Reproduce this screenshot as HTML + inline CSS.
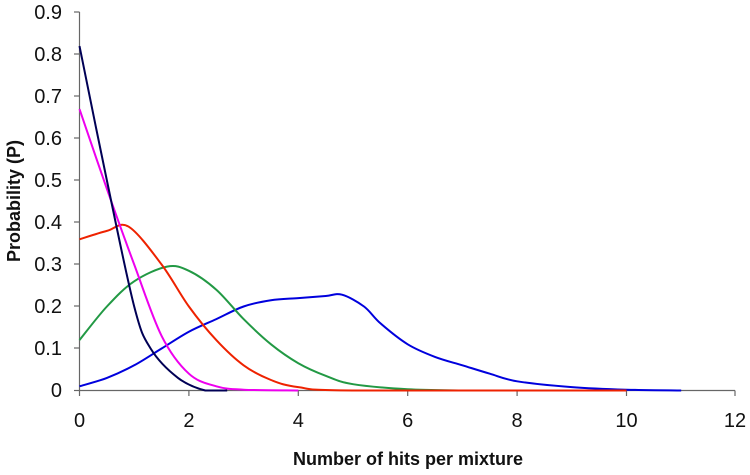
<!DOCTYPE html>
<html><head><style>body{margin:0;background:#fff}</style></head><body>
<svg id="s" width="750" height="470" xmlns="http://www.w3.org/2000/svg" font-family="Liberation Sans, sans-serif">
<rect width="750" height="470" fill="#fff"/>
<g stroke="#666" stroke-width="1.2" fill="none">
<line x1="79.5" y1="12" x2="79.5" y2="390.5"/>
<line x1="79.5" y1="390.5" x2="735" y2="390.5"/>
<g>
<line x1="74" y1="12" x2="79.5" y2="12"/><line x1="74" y1="54" x2="79.5" y2="54"/><line x1="74" y1="96" x2="79.5" y2="96"/><line x1="74" y1="138" x2="79.5" y2="138"/><line x1="74" y1="180" x2="79.5" y2="180"/><line x1="74" y1="222" x2="79.5" y2="222"/><line x1="74" y1="264" x2="79.5" y2="264"/><line x1="74" y1="306" x2="79.5" y2="306"/><line x1="74" y1="348" x2="79.5" y2="348"/><line x1="74" y1="390.5" x2="79.5" y2="390.5"/>
<line x1="79.5" y1="390.5" x2="79.5" y2="396"/><line x1="188.9" y1="390.5" x2="188.9" y2="396"/><line x1="298.3" y1="390.5" x2="298.3" y2="396"/><line x1="407.7" y1="390.5" x2="407.7" y2="396"/><line x1="517.1" y1="390.5" x2="517.1" y2="396"/><line x1="626.5" y1="390.5" x2="626.5" y2="396"/><line x1="735" y1="390.5" x2="735" y2="396"/>
</g></g>
<g font-size="20" fill="#111" text-anchor="end">
<text x="62" y="19">0.9</text><text x="62" y="61">0.8</text><text x="62" y="103">0.7</text><text x="62" y="145">0.6</text><text x="62" y="187">0.5</text><text x="62" y="229">0.4</text><text x="62" y="271">0.3</text><text x="62" y="313">0.2</text><text x="62" y="355">0.1</text><text x="62" y="397">0</text>
</g>
<g font-size="20" fill="#111" text-anchor="middle">
<text x="79.5" y="427">0</text><text x="188.9" y="427">2</text><text x="298.3" y="427">4</text><text x="407.7" y="427">6</text><text x="517.1" y="427">8</text><text x="626.5" y="427">10</text><text x="735" y="427">12</text>
</g>
<text x="408" y="465" font-size="18" font-weight="bold" text-anchor="middle" fill="#111">Number of hits per mixture</text>
<text transform="translate(20,201) rotate(-90)" font-size="18" font-weight="bold" text-anchor="middle" fill="#111">Probability (P)</text>
<g fill="none" stroke-width="2" stroke-linejoin="round">
<polyline stroke="#0000dd" points="79.5,386.3 106.9,377.9 134.2,365.3 161.6,348.5 188.9,331.7 216.3,319.1 243.6,306.5 271,300.2 298.3,298.1 325.7,296 342,294.7 364,306.5 380.4,323.3 407.7,344.3 435,356.9 462.4,365.3 489.8,373.7 517.1,381.3 571.8,387.1 626.5,389.7 681.2,390.5"/>
<polyline stroke="#229944" points="79.5,340.1 106.9,306.5 134.2,281.3 167,266.6 188.9,270.8 216.3,289.7 243.6,319.1 271,344.3 298.3,363.2 325.7,375.8 353,384.2 407.7,389.2 462.4,390.5"/>
<polyline stroke="#ee2200" points="79.5,239.3 106.9,230.9 128.7,226.7 161.6,264.5 188.9,306.5 216.3,340.1 243.6,365.3 271,380 298.3,387.1 353,390.5 626.5,390.5"/>
<polyline stroke="#ee00ee" points="79.5,109.1 106.9,188.9 134.2,264.5 161.6,335.9 188.9,373.7 216.3,386.3 243.6,389.7 298.3,390.5"/>
<polyline stroke="#000055" points="79.5,46.1 106.9,180.5 134.2,306.5 150.6,348.5 178,377.9 205.3,390.5 227.2,390.5"/>
</g>
</svg>
<script>
document.querySelectorAll('polyline').forEach(function(pl){
  var p=pl.getAttribute('points').trim().split(/\s+/).map(function(s){return s.split(',').map(Number);});
  var d='M'+p[0][0]+','+p[0][1];
  for(var i=0;i<p.length-1;i++){
    var p0=p[i-1]||p[i],p1=p[i],p2=p[i+1],p3=p[i+2]||p2;
    var c1x=p1[0]+(p2[0]-p0[0])/6,c1y=p1[1]+(p2[1]-p0[1])/6;
    var c2x=p2[0]-(p3[0]-p1[0])/6,c2y=p2[1]-(p3[1]-p1[1])/6;
    c1y=Math.min(c1y,390.5);c2y=Math.min(c2y,390.5);
    d+=' C'+c1x+','+c1y+' '+c2x+','+c2y+' '+p2[0]+','+p2[1];
  }
  var path=document.createElementNS('http://www.w3.org/2000/svg','path');
  path.setAttribute('d',d);path.setAttribute('stroke',pl.getAttribute('stroke'));
  pl.parentNode.replaceChild(path,pl);
});
</script>
</body></html>
